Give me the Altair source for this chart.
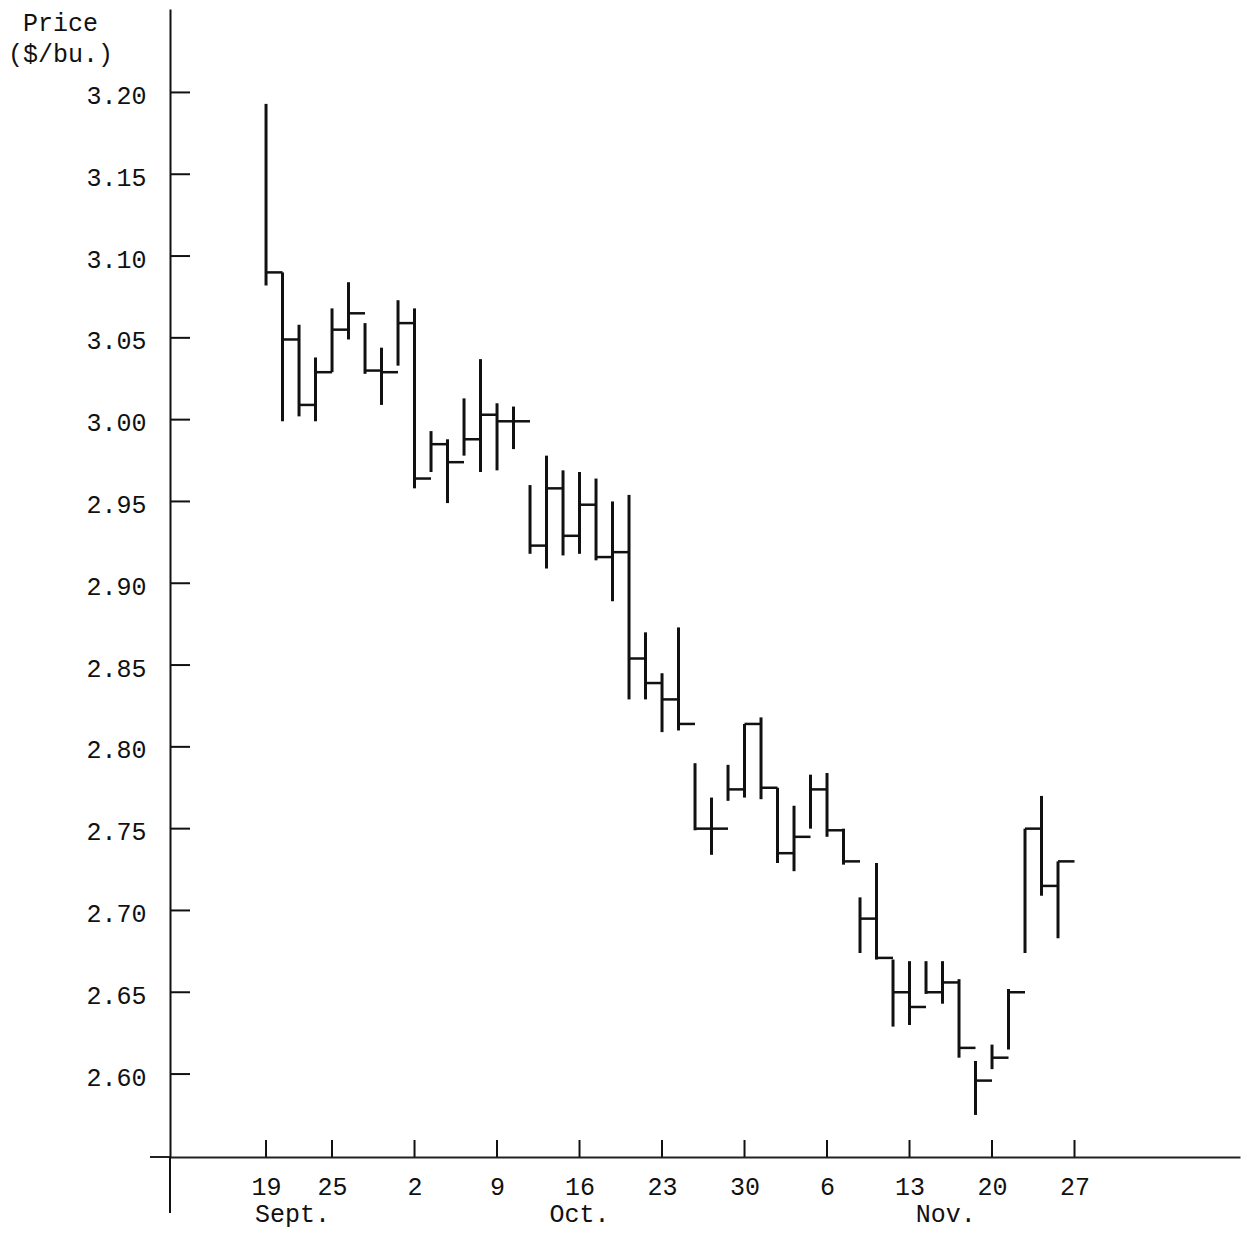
import json
import altair as alt
import pandas as pd

# Daily high / low / close, $ per bushel (49 trading days, Sept. 19 -> late Nov.)
highs = [3.193, 3.090, 3.058, 3.038, 3.068, 3.084, 3.059, 3.044, 3.073, 3.068,
         2.993, 2.988, 3.013, 3.037, 3.010, 3.008, 2.960, 2.978, 2.969, 2.968,
         2.964, 2.950, 2.954, 2.870, 2.845, 2.873, 2.790, 2.769, 2.789, 2.814,
         2.818, 2.775, 2.764, 2.783, 2.784, 2.750, 2.708, 2.729, 2.670, 2.669,
         2.669, 2.669, 2.658, 2.608, 2.618, 2.652, 2.750, 2.770, 2.730]
lows = [3.082, 2.999, 3.002, 2.999, 3.029, 3.049, 3.028, 3.009, 3.033, 2.958,
        2.968, 2.949, 2.978, 2.968, 2.969, 2.982, 2.918, 2.909, 2.917, 2.918,
        2.914, 2.889, 2.829, 2.829, 2.809, 2.810, 2.749, 2.734, 2.767, 2.769,
        2.768, 2.729, 2.724, 2.750, 2.745, 2.728, 2.674, 2.670, 2.629, 2.630,
        2.649, 2.643, 2.610, 2.575, 2.603, 2.615, 2.674, 2.709, 2.683]
closes = [3.090, 3.049, 3.009, 3.029, 3.055, 3.065, 3.030, 3.029, 3.059, 2.964,
          2.985, 2.974, 2.988, 3.003, 2.999, 2.999, 2.923, 2.958, 2.929, 2.948,
          2.916, 2.919, 2.854, 2.839, 2.829, 2.814, 2.750, 2.750, 2.774, 2.814,
          2.775, 2.735, 2.745, 2.774, 2.749, 2.730, 2.695, 2.671, 2.650, 2.641,
          2.650, 2.656, 2.616, 2.596, 2.610, 2.650, 2.750, 2.715, 2.730]

day_ticks = [0, 4, 9, 14, 19, 24, 29, 34, 39, 44, 49]
day_labels = ["19", "25", "2", "9", "16", "23", "30", "6", "13", "20", "27"]
month_labels = ["Sept.", "Oct.", "Nov."]
month_pos = [1.6, 19.0, 41.2]
price_ticks = [2.60, 2.65, 2.70, 2.75, 2.80, 2.85, 2.90, 2.95, 3.00, 3.05, 3.10, 3.15, 3.20]

W, H = 1070, 1148
FONT = "Liberation Mono"
INK = "#111111"

df = pd.DataFrame({"day": list(range(len(highs))), "high": highs, "low": lows, "close": closes})

xs = alt.Scale(domain=[-5.82, 59.03], nice=False, zero=False)
ys = alt.Scale(domain=[2.5493, 3.2510], nice=False, zero=False)

label_expr = f"{json.dumps(day_labels)}[indexof({json.dumps(day_ticks)}, datum.value)]"

x_axis = alt.Axis(values=day_ticks, labelExpr=label_expr, ticks=False, tickSize=0,
                  grid=False, domain=True, domainColor="#222222", domainWidth=2,
                  labelFont=FONT, labelFontSize=25, labelColor=INK, labelPadding=17,
                  labelFlush=False, labelOverlap=False, title=None)
y_axis = alt.Axis(values=price_ticks, format=".2f", ticks=False, tickSize=0,
                  grid=False, domain=True, domainColor=INK, domainWidth=2,
                  labelFont=FONT, labelFontSize=25, labelColor=INK, labelPadding=24,
                  labelOffset=3, labelFlush=False, labelOverlap=False,
                  title=["Price", "($/bu.)"], titleAngle=0, titleX=-110, titleY=1,
                  titleAlign="center", titleBaseline="top", titleFont=FONT,
                  titleFontSize=25, titleFontWeight="normal", titleLineHeight=31,
                  titleColor=INK)

base = alt.Chart(df)

hl = base.mark_rule(color=INK, strokeWidth=3).encode(
    x=alt.X("day:Q", scale=xs, axis=x_axis),
    y=alt.Y("low:Q", scale=ys, axis=y_axis),
    y2="high:Q",
)

cl = base.transform_calculate(day_end="datum.day + 1").mark_rule(
    color=INK, strokeWidth=2.5
).encode(
    x=alt.X("day:Q", scale=xs, axis=x_axis),
    x2="day_end:Q",
    y=alt.Y("close:Q", scale=ys, axis=y_axis),
)

yticks = alt.Chart(pd.DataFrame({"p": price_ticks})).mark_rule(color=INK, strokeWidth=2).encode(
    y=alt.Y("p:Q", scale=ys, axis=y_axis),
    x=alt.value(0),
    x2=alt.value(20),
)

xticks = alt.Chart(pd.DataFrame({"d": day_ticks})).mark_rule(color=INK, strokeWidth=2).encode(
    x=alt.X("d:Q", scale=xs, axis=x_axis),
    y=alt.value(H),
    y2=alt.value(H - 17),
)

months = alt.Chart(pd.DataFrame({"m": month_labels, "pos": month_pos})).mark_text(
    font=FONT, fontSize=25, color=INK, align="center", baseline="middle"
).encode(
    x=alt.X("pos:Q", scale=xs, axis=x_axis),
    y=alt.value(H + 57),
    text="m:N",
)

one = pd.DataFrame({"a": [0]})
x_ext = alt.Chart(one).mark_rule(color="#222222", strokeWidth=2).encode(
    x=alt.value(-20), x2=alt.value(0), y=alt.value(H)
)
y_ext = alt.Chart(one).mark_rule(color=INK, strokeWidth=2).encode(
    x=alt.value(0), y=alt.value(H), y2=alt.value(H + 56)
)

chart = alt.layer(hl, cl, yticks, xticks, months, x_ext, y_ext).properties(
    width=W,
    height=H,
    autosize=alt.AutoSizeParams(type="none"),
    padding={"left": 162, "top": 1, "right": 2, "bottom": 76},
    background="white",
).configure_view(stroke=None)

chart.save("out.html", embed_options={"renderer": "svg", "actions": False})
